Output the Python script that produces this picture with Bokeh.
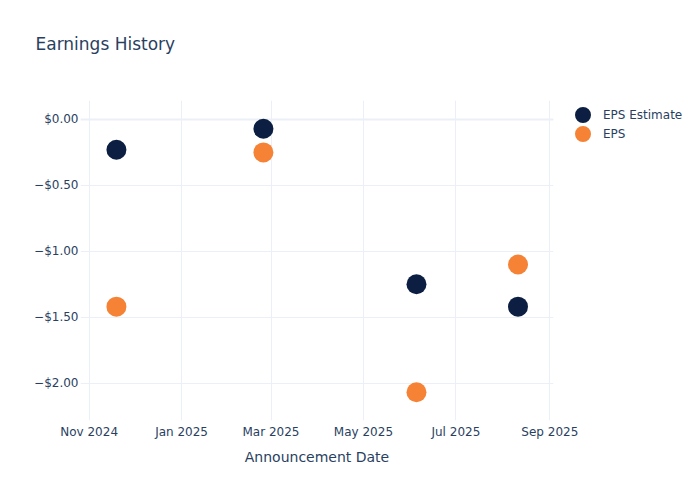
from datetime import datetime
from bokeh.plotting import figure
from bokeh.models import (ColumnDataSource, FixedTicker, DatetimeTickFormatter,
                          CustomJSTickFormatter, Legend, LegendItem, Span, Range1d, Title)
from bokeh.embed import file_html
from bokeh.resources import INLINE

# ---- data ----
dates = ["2024-11-19", "2025-02-24", "2025-06-05", "2025-08-11"]
eps_estimate = [-0.23, -0.07, -1.25, -1.42]
eps_actual = [-1.42, -0.25, -2.07, -1.10]
x_tick_dates = ["2024-11-01", "2025-01-01", "2025-03-01", "2025-05-01", "2025-07-01", "2025-09-01"]
y_ticks = [0.0, -0.5, -1.0, -1.5, -2.0]
series_names = ["EPS Estimate", "EPS"]

def to_dt(s):
    return datetime.strptime(s, "%Y-%m-%d")

def to_ms(s):
    return (to_dt(s) - datetime(1970, 1, 1)).total_seconds() * 1000.0

FONT = "DejaVu Sans"
TXT = "#2a3f5f"
GRID = "#ebf0f8"
NAVY = "#0c1f42"
ORANGE = "#f58235"

src = ColumnDataSource(dict(date=[to_dt(d) for d in dates], est=eps_estimate, act=eps_actual))

p = figure(x_axis_type="datetime", output_backend="svg", toolbar_location=None,
           frame_width=473, frame_height=320,
           min_border_left=80, min_border_top=100, min_border_bottom=64, min_border_right=131,
           x_range=Range1d(datetime(2024, 10, 26, 7), datetime(2025, 9, 3, 10)),
           y_range=Range1d(-2.284, 0.144))

p.outline_line_color = None
p.background_fill_color = "white"
p.border_fill_color = "white"

# spacer between title and plot area (closest to the frame)
p.add_layout(Title(text=" ", text_font_size="1px", standoff=39), "above")

# title
p.title.text = "Earnings History"
p.title.text_font = FONT
p.title.text_font_size = "17px"
p.title.text_font_style = "normal"
p.title.text_color = TXT
p.title.align = "left"
p.title.offset = -45
p.title.standoff = 10

# grids
p.xgrid.grid_line_color = GRID
p.ygrid.grid_line_color = GRID
p.xgrid.ticker = FixedTicker(ticks=[to_ms(d) for d in x_tick_dates])
p.ygrid.ticker = FixedTicker(ticks=y_ticks)
p.add_layout(Span(location=0, dimension="width", line_color=GRID, line_width=2, level="underlay"))

# axes
for ax in (p.xaxis[0], p.yaxis[0]):
    ax.axis_line_color = None
    ax.major_tick_line_color = None
    ax.minor_tick_line_color = None
    ax.major_tick_out = 0
    ax.major_tick_in = 0
    ax.minor_tick_out = 0
    ax.minor_tick_in = 0
    ax.major_label_text_font = FONT
    ax.major_label_text_font_size = "12px"
    ax.major_label_text_color = TXT

p.xaxis[0].ticker = FixedTicker(ticks=[to_ms(d) for d in x_tick_dates])
p.xaxis[0].formatter = DatetimeTickFormatter(
    milliseconds="%b %Y", seconds="%b %Y", minsec="%b %Y", minutes="%b %Y",
    hourmin="%b %Y", hours="%b %Y", days="%b %Y", months="%b %Y", years="%b %Y")
p.xaxis[0].major_label_standoff = 4
p.xaxis[0].axis_label = "Announcement Date"
p.xaxis[0].axis_label_text_font = FONT
p.xaxis[0].axis_label_text_font_size = "14px"
p.xaxis[0].axis_label_text_font_style = "normal"
p.xaxis[0].axis_label_text_color = TXT
p.xaxis[0].axis_label_standoff = 7

p.yaxis[0].ticker = FixedTicker(ticks=y_ticks)
p.yaxis[0].formatter = CustomJSTickFormatter(
    code="return (tick < -1e-9 ? '\\u2212' : '') + '$' + Math.abs(tick).toFixed(2);")
p.yaxis[0].major_label_standoff = 2

# points
r_est = p.scatter("date", "est", source=src, size=20, fill_color=NAVY, line_color=NAVY, line_width=0)
r_act = p.scatter("date", "act", source=src, size=20, fill_color=ORANGE, line_color=ORANGE, line_width=0)

# legend swatches: hidden markers with a thick same-colour outline give large dots in compact rows
sw_est = p.scatter("date", "est", source=src, size=8, line_width=8.4,
                   fill_color=NAVY, line_color=NAVY, visible=False)
sw_act = p.scatter("date", "act", source=src, size=8, line_width=8.4,
                   fill_color=ORANGE, line_color=ORANGE, visible=False)

legend = Legend(items=[LegendItem(label=series_names[0], renderers=[sw_est]),
                       LegendItem(label=series_names[1], renderers=[sw_act])],
                location=(20, 277), margin=0, padding=0, spacing=0,
                glyph_width=19, glyph_height=19, label_height=19, label_standoff=11,
                label_text_font=FONT, label_text_font_size="12px", label_text_color=TXT,
                border_line_color=None, background_fill_alpha=0,
                inactive_fill_alpha=0, click_policy="none")
p.add_layout(legend, "right")

open("out.html", "w").write(file_html(p, INLINE))
